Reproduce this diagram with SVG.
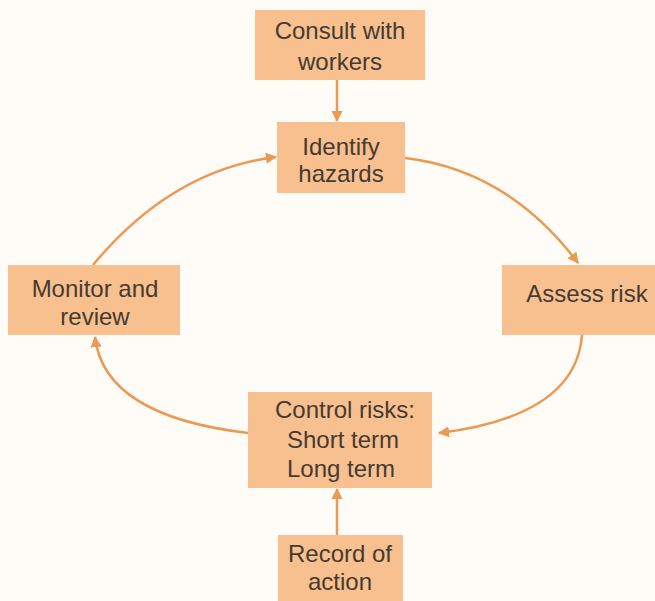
<svg xmlns="http://www.w3.org/2000/svg" width="655" height="601" viewBox="0 0 655 601">
<defs>
<style>
.box{fill:#F8C08E;}
.lbl{font-family:"Liberation Sans",Arial,sans-serif;font-size:24px;fill:#453b33;text-anchor:middle;}
.edge{fill:none;stroke:#EA9A55;stroke-width:2.5;}
</style>
<marker id="ah" viewBox="0 0 10 10" refX="9" refY="5" markerWidth="4.5" markerHeight="4.5" orient="auto" markerUnits="strokeWidth">
<path d="M0,0 L10,5 L0,10 z" fill="#EA9A55"/>
</marker>
</defs>
<rect width="655" height="601" fill="#FFFBF7"/>
<g id="connectors">
<path class="edge" d="M337,80 L337,121" marker-end="url(#ah)"/>
<path class="edge" d="M405,158 Q508,170 578,263" marker-end="url(#ah)"/>
<path class="edge" d="M582,335 Q576,416 439,433" marker-end="url(#ah)"/>
<path class="edge" d="M248,433 Q104,416 95,337" marker-end="url(#ah)"/>
<path class="edge" d="M93,265 Q172,170 276,157" marker-end="url(#ah)"/>
<path class="edge" d="M337,535 L337,489" marker-end="url(#ah)"/>
</g>
<g id="consult">
<rect class="box" x="255" y="10" width="170" height="70"/>
<text class="lbl" x="340" y="39">Consult with</text>
<text class="lbl" x="340" y="70">workers</text>
</g>
<g id="identify">
<rect class="box" x="277" y="122" width="128" height="71"/>
<text class="lbl" x="341" y="155">Identify</text>
<text class="lbl" x="341" y="182">hazards</text>
</g>
<g id="assess">
<rect class="box" x="502" y="265" width="153" height="70"/>
<text class="lbl" x="587" y="302">Assess risk</text>
</g>
<g id="control">
<rect class="box" x="248" y="392" width="184" height="96"/>
<text class="lbl" x="345" y="418">Control risks:</text>
<text class="lbl" x="343" y="448">Short term</text>
<text class="lbl" x="341" y="477">Long term</text>
</g>
<g id="record">
<rect class="box" x="278" y="535" width="125" height="66"/>
<text class="lbl" x="340" y="562">Record of</text>
<text class="lbl" x="340" y="590">action</text>
</g>
<g id="monitor">
<rect class="box" x="8" y="265" width="172" height="70"/>
<text class="lbl" x="95" y="297">Monitor and</text>
<text class="lbl" x="95" y="325">review</text>
</g>
</svg>
